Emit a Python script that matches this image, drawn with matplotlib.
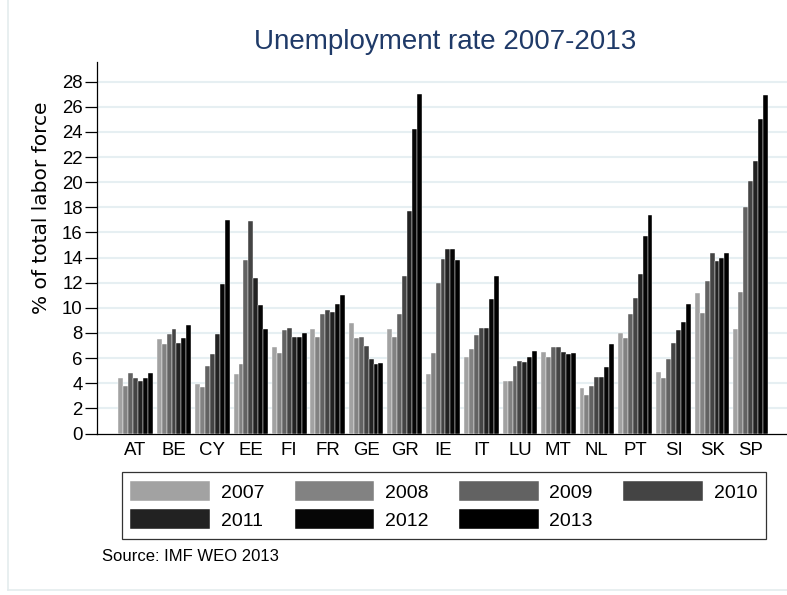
import numpy as np
import matplotlib
matplotlib.use('Agg')
import matplotlib.pyplot as plt
from matplotlib.lines import Line2D

plt.rcParams['font.family'] = ['Liberation Sans', 'DejaVu Sans']

countries = ['AT', 'BE', 'CY', 'EE', 'FI', 'FR', 'GE', 'GR', 'IE', 'IT',
             'LU', 'MT', 'NL', 'PT', 'SI', 'SK', 'SP']
years = ['2007', '2008', '2009', '2010', '2011', '2012', '2013']

# unemployment rate, % of labor force, by year
u2007 = [4.4, 7.5, 3.9, 4.7, 6.9, 8.3, 8.8, 8.3, 4.7, 6.1, 4.2, 6.5, 3.6, 8.0, 4.9, 11.2, 8.3]
u2008 = [3.8, 7.1, 3.7, 5.5, 6.4, 7.7, 7.6, 7.7, 6.4, 6.7, 4.2, 6.1, 3.1, 7.6, 4.4, 9.6, 11.3]
u2009 = [4.8, 7.9, 5.4, 13.8, 8.2, 9.5, 7.7, 9.5, 12.0, 7.8, 5.4, 6.9, 3.8, 9.5, 5.9, 12.1, 18.0]
u2010 = [4.4, 8.3, 6.3, 16.9, 8.4, 9.8, 7.0, 12.5, 13.9, 8.4, 5.8, 6.9, 4.5, 10.8, 7.2, 14.4, 20.1]
u2011 = [4.2, 7.2, 7.9, 12.4, 7.7, 9.7, 5.9, 17.7, 14.7, 8.4, 5.7, 6.5, 4.5, 12.7, 8.2, 13.7, 21.7]
u2012 = [4.4, 7.6, 11.9, 10.2, 7.7, 10.3, 5.5, 24.2, 14.7, 10.7, 6.1, 6.3, 5.3, 15.7, 8.9, 14.0, 25.0]
u2013 = [4.8, 8.6, 17.0, 8.3, 8.0, 11.0, 5.6, 27.0, 13.8, 12.5, 6.6, 6.4, 7.1, 17.4, 10.3, 14.4, 26.9]

series = [u2007, u2008, u2009, u2010, u2011, u2012, u2013]
colors = ['#a2a2a2', '#828282', '#626262', '#444444', '#222222', '#060606', '#000000']

fig = plt.figure(figsize=(7.87, 5.95), dpi=100)
ax = fig.add_axes([96.7 / 787, 1 - 433.5 / 595, 1 - 96.7 / 787, (433.5 - 61.7) / 595])

x = np.arange(len(countries))
w = 0.897 / 7
bars = []
for i, (vals, c) in enumerate(zip(series, colors)):
    b = ax.bar(x + (i - 3) * w, vals, width=w, color=c, edgecolor='white',
               linewidth=0.3, label=years[i], zorder=3)
    bars.append(b)

ax.set_xlim(-1.011, 16.95)
ax.set_ylim(0, 29.59)
ax.set_yticks(range(0, 29, 2))
ax.set_xticks(x)
ax.set_xticklabels(countries)

for y in range(2, 29, 2):
    ax.axhline(y, color='#e6eff2', linewidth=1.5, zorder=1)

for s in ['top', 'right']:
    ax.spines[s].set_visible(False)
ax.spines['left'].set_linewidth(0.9)
ax.spines['bottom'].set_linewidth(0.9)
ax.tick_params(axis='y', length=8.6, width=0.9, pad=1.5, labelsize=13.4)
ax.tick_params(axis='x', length=0, pad=6, labelsize=13.4)

fig.text(445.5 / 787, 1 - 41.7 / 595, 'Unemployment rate 2007-2013',
         fontsize=20, color='#1f3a68', ha='center', va='center')
fig.text(42 / 787, 1 - 208 / 595, '% of total labor force', rotation=90,
         fontsize=14.5, family=['DejaVu Sans'], ha='center', va='center')

# legend filled row by row like the original (matplotlib fills by column)
order = [0, 4, 1, 5, 2, 6, 3]
leg = fig.legend([bars[k] for k in order], [years[k] for k in order],
                 loc='upper left', ncol=4, mode='expand',
                 bbox_to_anchor=(121.7 / 787, 1 - 539 / 595, (766 - 121.7) / 787, (539 - 472.3) / 595),
                 borderaxespad=0, fontsize=14, handlelength=4.1, handleheight=1.2,
                 handletextpad=0.55, labelspacing=0.4, borderpad=0.45,
                 fancybox=False, edgecolor='#333333', framealpha=1)
leg.get_frame().set_linewidth(0.9)

fig.text(101.7 / 787, 1 - 556.7 / 595, 'Source: IMF WEO 2013', fontsize=12,
         family=['Liberation Sans Narrow', 'Liberation Sans'], ha='left', va='center')

# outer graph region outline
fig.add_artist(Line2D([7.5 / 787, 7.5 / 787], [1 - 590 / 595, 1], color='#e4ecee', linewidth=1.2))
fig.add_artist(Line2D([7.5 / 787, 1], [1 - 590 / 595, 1 - 590 / 595], color='#e4ecee', linewidth=1.2))

fig.savefig('out.png', dpi=100)
